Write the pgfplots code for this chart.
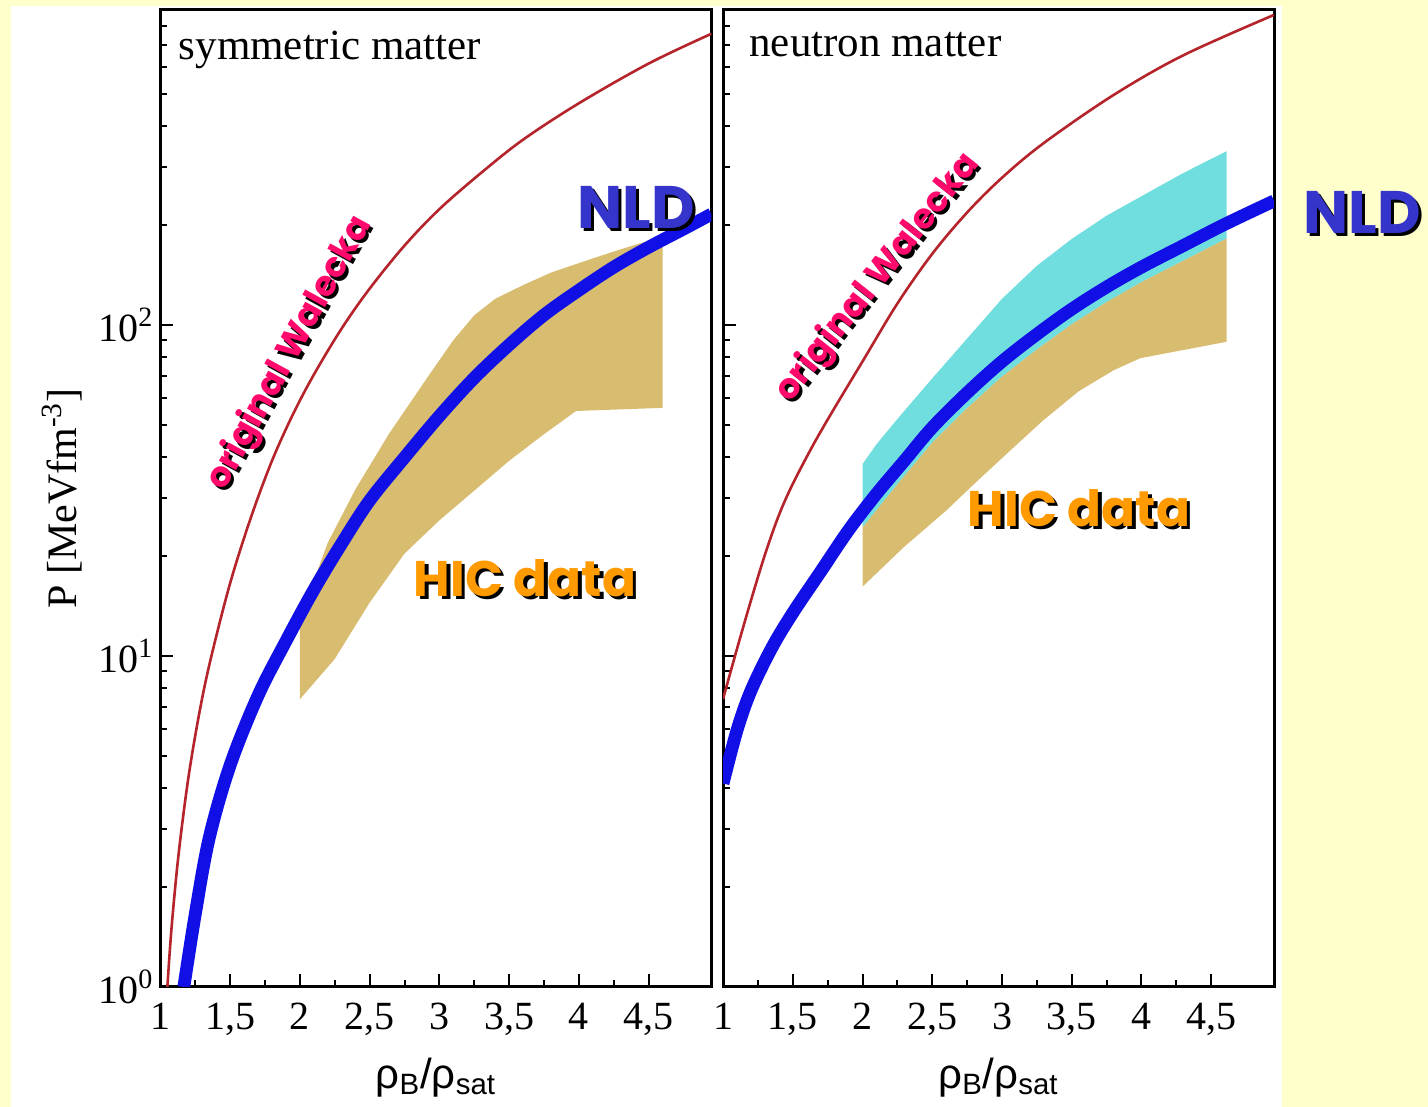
\documentclass[border=0pt]{standalone}
\usepackage{fontspec}
\setmainfont{Liberation Serif}
\setsansfont{Liberation Sans}
\newfontfamily\annotfont{Poppins}
\usepackage{pgfplots}
\pgfplotsset{compat=1.18}

\definecolor{bgyellow}{HTML}{FFFFCC}
\definecolor{walecka}{HTML}{B5232B}
\definecolor{nld}{HTML}{1010E6}
\definecolor{hicgold}{HTML}{D8BC70}
\definecolor{hiccyan}{HTML}{70DEDE}
\definecolor{pinklabel}{HTML}{FF0A6C}
\definecolor{nldlabel}{HTML}{3535CC}
\definecolor{hiclabel}{HTML}{FF9A00}

\pgfplotsset{
  eospanel/.style={
    scale only axis, width=275.5pt, height=488.5pt,
    anchor=south west,
    xmin=1, xmax=4.95, ymin=1, ymax=895,
    axis line style={line width=1.5pt},
    tick align=inside, xtick pos=left, ytick pos=left,
    xtick={1,1.5,2,2.5,3,3.5,4,4.5}, minor x tick num=1,
    ytick={1,10,100},
    minor ytick={2,3,4,5,6,7,8,9,20,30,40,50,60,70,80,90,200,300,400,500,600,700,800},
    major tick length=6.5pt, minor tick length=3.5pt,
    every tick/.style={black, line width=1pt},
    /pgf/number format/use comma,
    /pgf/number format/assume math mode=true,
    tick label style={font=\fontsize{20}{23}\selectfont},
    xticklabel style={yshift=-4.5pt},
    xlabel={ρ\textsubscript{B}/ρ\textsubscript{sat}},
    xlabel style={at={(axis description cs:0.5,-0.093)}, anchor=center,
                  font=\sffamily\fontsize{21}{24}\selectfont},
  },
  walecka line/.style={walecka, line width=1.3pt, smooth, tension=0.55},
  nld line/.style={nld, line width=6.4pt, smooth, tension=0.55},
}

\begin{document}
\begin{tikzpicture}[x=1pt,y=1pt]
\useasboundingbox (0,0) rectangle (714,553.5);
\fill[bgyellow] (0,0) rectangle (714,553.5);
\fill[white] (5.5,0) rectangle (641,550.5);

% ---------------- symmetric matter ----------------
\begin{semilogyaxis}[eospanel, at={(80.2pt,60pt)},
  yticklabels={10\textsuperscript{0},10\textsuperscript{1},10\textsuperscript{2}},
  ylabel={P [MeVfm\textsuperscript{-3}]},
  ylabel style={at={(axis description cs:-0.178,0.5)}, anchor=center,
                font=\fontsize{21}{24}\selectfont},
]
% HIC constraint band
\addplot[fill=hicgold, draw=none] coordinates {
  (2.0,7.4) (2.25,9.8) (2.5,14.5) (2.75,20.4) (3.0,25.7) (3.25,31.6) (3.5,38.9)
  (3.75,46.8) (3.98,55) (4.6,56.2)
  (4.6,185) (4.35,172) (4.1,159) (3.8,144) (3.6,132) (3.4,120) (3.25,107)
  (3.1,90) (2.92,70) (2.64,47) (2.4,32) (2.2,22) (2.0,13)
} -- cycle;
% original Walecka
\addplot[walecka line] coordinates {
  (1.05,1.0) (1.08,1.51) (1.13,2.51) (1.20,4.27) (1.28,6.76) (1.36,9.77)
  (1.50,16.6) (1.65,26.3) (1.80,38.9) (1.95,53.7) (2.10,70.8) (2.30,97.7)
  (2.50,128.8) (2.75,173.8) (3.00,223.9) (3.30,288.4) (3.60,363.1)
  (4.00,467.7) (4.50,616.6) (4.95,758.6)
};
% NLD
\addplot[nld line] coordinates {
  (1.168,1.0) (1.25,1.66) (1.35,2.82) (1.50,4.68) (1.70,7.59) (1.90,11.09)
  (2.10,15.85) (2.30,21.88) (2.50,29.5) (2.75,39.8) (3.00,53.1) (3.25,69.2)
  (3.50,87.1) (3.75,107.2) (4.00,127.4) (4.25,149.6) (4.50,171.8)
  (4.75,195) (4.95,216.3)
};
\node[anchor=base west, inner sep=0pt, xshift=9pt, yshift=-25pt,
      font=\fontsize{21.5}{25}\selectfont]
  at (rel axis cs:0,1) {symmetric matter};
\end{semilogyaxis}

% ---------------- neutron matter ----------------
\begin{semilogyaxis}[eospanel, at={(361.5pt,60pt)}, yticklabels={}]
\addplot[fill=hicgold, draw=none] coordinates {
  (2.0,16.2) (2.3,21.4) (2.6,27.5) (2.8,33.1) (3.03,40.7) (3.29,51.3)
  (3.55,63.1) (3.8,73) (3.99,79.4) (4.61,89)
  (4.61,182.8) (4.3,156.7) (4.0,135) (3.75,117.5) (3.5,100.7) (3.25,84.5)
  (3.0,70) (2.75,56.2) (2.5,44.2) (2.25,33.1) (2.0,24.5)
} -- cycle;
\addplot[fill=hiccyan, draw=none] coordinates {
  (2.0,24.5) (2.25,33.1) (2.5,44.2) (2.75,56.2) (3.0,70) (3.25,84.5)
  (3.5,100.7) (3.75,117.5) (4.0,135) (4.3,156.7) (4.61,182.8)
  (4.61,335) (4.3,288) (4.0,245) (3.75,214) (3.5,182) (3.25,151) (3.0,120)
  (2.75,91) (2.5,69) (2.25,52) (2.1,43.6) (2.0,38)
} -- cycle;
\addplot[walecka line] coordinates {
  (1.0,7.41) (1.1,10.5) (1.2,14.7) (1.3,20.2) (1.4,26.6) (1.5,33.1)
  (1.65,43.7) (1.8,56.2) (2.0,77.6) (2.25,116.1) (2.5,164.1) (2.75,218.8)
  (3.0,278.6) (3.3,354.8) (3.8,495.5) (4.3,653.1) (4.95,865)
};
\addplot[nld line] coordinates {
  (1.0,4.12) (1.1,5.96) (1.2,7.85) (1.35,10.59) (1.5,13.49) (1.7,17.99)
  (1.9,23.99) (2.1,30.9) (2.3,38.9) (2.5,49.0) (2.75,62.4) (3.0,77.6)
  (3.25,93.8) (3.5,111.7) (3.75,130.3) (4.0,149.6) (4.3,173.8)
  (4.6,201.8) (4.95,237.1)
};
\node[anchor=base west, inner sep=0pt, xshift=13pt, yshift=-23.3pt,
      font=\fontsize{21.5}{25}\selectfont]
  at (rel axis cs:0,1) {neutron matter};
\end{semilogyaxis}

% ---------------- annotations (drop-shadowed labels) ----------------
\tikzset{annot/.style={font=\annotfont\bfseries\fontsize{#1}{#1}\selectfont, inner sep=0pt}}
\foreach \dx/\dy/\isshadow in {1.6/-1.6/1, 0/0/0}{
  \ifnum\isshadow=1 \def\pc{black}\def\bc{black}\def\hc{black}
  \else \def\pc{pinklabel}\def\bc{nldlabel}\def\hc{hiclabel}\fi
  \node[annot=17.5, text=\pc, rotate=61.3] at (145+\dx,376.9+\dy) {original Walecka};
  \node[annot=17.5, text=\pc, rotate=51.6] at (438.9+\dx,414.4+\dy) {original Walecka};
  \node[annot=30, text=\bc] at (318+\dx,450+\dy) {NLD};
  \node[annot=30, text=\bc] at (681+\dx,447.5+\dy) {NLD};
  \node[annot=25, text=\hc] at (262.5+\dx,264.5+\dy) {HIC data};
  \node[annot=25, text=\hc] at (539.5+\dx,299.5+\dy) {HIC data};
}
\end{tikzpicture}
\end{document}
